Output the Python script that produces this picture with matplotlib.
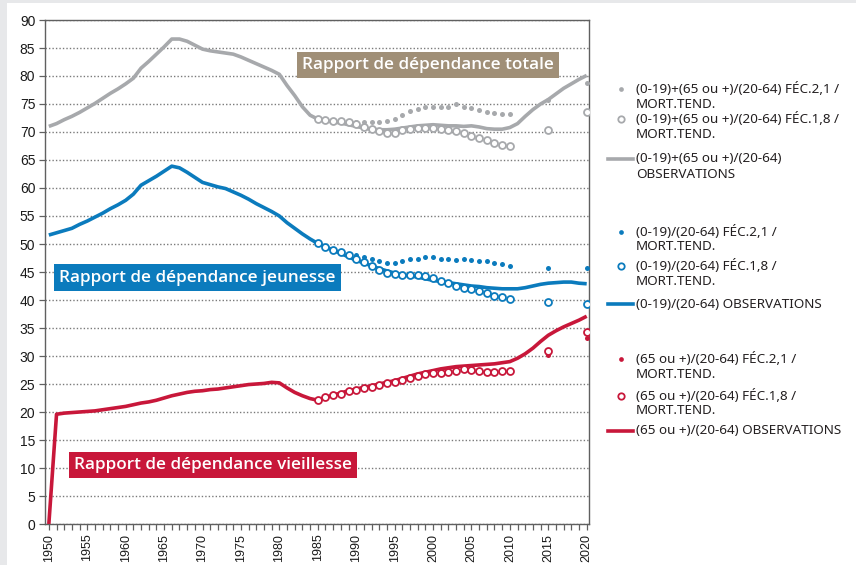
import numpy as np
import matplotlib
matplotlib.use("Agg")
import matplotlib.pyplot as plt
from matplotlib.lines import Line2D
from matplotlib.patches import Rectangle
from matplotlib.ticker import MultipleLocator

# observed years and projection years
years_obs = list(range(1950, 2021))
years_proj = list(range(1985, 2011)) + [2015, 2020]

# total dependency ratio (0-19)+(65+)/(20-64)
total_obs = [71.0, 71.5, 72.2, 72.8, 73.5, 74.3, 75.1, 76.0, 76.9, 77.7,
             78.6, 79.6, 81.4, 82.6, 83.9, 85.2, 86.6, 86.6, 86.2, 85.5,
             84.8, 84.5, 84.3, 84.1, 83.9, 83.4, 82.8, 82.2, 81.6, 81.0,
             80.3, 78.3, 76.5, 74.5, 73.0, 72.3, 72.0, 71.8, 71.6, 71.3,
             71.0, 70.7, 70.5, 70.4, 70.4, 70.5, 70.7, 70.9, 71.1, 71.2,
             71.3, 71.2, 71.1, 71.1, 71.0, 71.1, 70.9, 70.6, 70.5, 70.5,
             70.8, 71.5, 72.8, 74.0, 75.0, 75.8, 76.8, 77.8, 78.6, 79.4,
             80.1]
total_f21 = [72.2, 72.0, 71.9, 71.8, 71.8, 71.8, 71.8, 71.7, 71.8, 72.0,
             72.4, 73.0, 73.7, 74.1, 74.4, 74.4, 74.4, 74.4, 75.0, 74.4,
             74.2, 73.9, 73.6, 73.4, 73.3, 73.2, 75.7, 78.7]
total_f18 = [72.3, 72.1, 72.0, 72.0, 71.8, 71.5, 70.9, 70.5, 70.1, 69.8,
             69.9, 70.4, 70.6, 70.8, 70.8, 70.8, 70.6, 70.4, 70.1, 69.8,
             69.2, 68.9, 68.6, 68.0, 67.7, 67.5, 70.4, 73.6]

# youth dependency ratio (0-19)/(20-64)
young_obs = [51.6, 52.0, 52.4, 52.8, 53.5, 54.1, 54.8, 55.5, 56.3, 57.0,
             57.8, 58.9, 60.5, 61.3, 62.1, 63.0, 63.9, 63.6, 62.8, 61.9,
             61.0, 60.6, 60.2, 59.9, 59.3, 58.7, 58.0, 57.2, 56.5, 55.8,
             55.0, 53.8, 52.8, 51.8, 50.9, 50.1, 49.5, 48.9, 48.3, 47.7,
             47.1, 46.6, 46.1, 45.6, 45.2, 44.8, 44.5, 44.3, 44.1, 43.8,
             43.5, 43.3, 43.1, 42.9, 42.7, 42.5, 42.4, 42.2, 42.1, 42.0,
             42.0, 42.0, 42.2, 42.5, 42.8, 43.0, 43.1, 43.2, 43.2, 43.0,
             42.9]
young_f21 = [50.1, 49.6, 49.1, 48.6, 48.2, 48.0, 47.7, 47.3, 46.9, 46.6,
             46.6, 46.9, 47.3, 47.4, 47.6, 47.6, 47.4, 47.3, 47.1, 47.3,
             47.1, 47.0, 46.9, 46.6, 46.4, 46.1, 45.7, 45.7]
young_f18 = [50.1, 49.5, 49.0, 48.5, 48.0, 47.4, 46.8, 46.1, 45.4, 44.9,
             44.6, 44.5, 44.4, 44.4, 44.2, 43.9, 43.4, 43.0, 42.5, 42.2,
             41.9, 41.6, 41.2, 40.7, 40.5, 40.1, 39.7, 39.3]

# old-age dependency ratio (65+)/(20-64)
old_obs = [0.0, 19.6, 19.8, 19.9, 20.0, 20.1, 20.2, 20.4, 20.6, 20.8,
           21.0, 21.3, 21.6, 21.8, 22.1, 22.5, 22.9, 23.2, 23.5, 23.7,
           23.8, 24.0, 24.1, 24.3, 24.5, 24.7, 24.9, 25.0, 25.1, 25.3,
           25.2, 24.3, 23.5, 22.9, 22.4, 22.1, 22.6, 23.0, 23.4, 23.8,
           24.1, 24.4, 24.7, 25.0, 25.3, 25.6, 26.0, 26.4, 26.8, 27.1,
           27.4, 27.7, 27.9, 28.1, 28.2, 28.3, 28.4, 28.5, 28.6, 28.8,
           29.0, 29.6, 30.4, 31.4, 32.6, 33.7, 34.5, 35.2, 35.8, 36.4,
           37.1]
old_f21 = [22.1, 22.6, 23.0, 23.3, 23.7, 24.0, 24.3, 24.5, 24.8, 25.1,
           25.4, 25.7, 26.1, 26.4, 26.7, 26.9, 27.0, 27.1, 27.3, 27.6,
           27.5, 27.4, 27.2, 27.2, 27.3, 27.4, 30.2, 33.2]
old_f18 = [22.1, 22.6, 23.0, 23.3, 23.7, 24.0, 24.3, 24.5, 24.8, 25.1,
           25.4, 25.7, 26.1, 26.4, 26.7, 26.9, 27.0, 27.1, 27.3, 27.6,
           27.5, 27.4, 27.2, 27.2, 27.3, 27.4, 30.9, 34.3]

GREY = "#a7a9ac"
BLUE = "#0b7bbd"
RED = "#c8173a"
TAUPE = "#a08f77"

series = [
    (total_obs, total_f21, total_f18, GREY,
     ["(0-19)+(65 ou +)/(20-64) FÉC.2,1 /", "MORT.TEND."],
     ["(0-19)+(65 ou +)/(20-64) FÉC.1,8 /", "MORT.TEND."],
     ["(0-19)+(65 ou +)/(20-64)", "OBSERVATIONS"]),
    (young_obs, young_f21, young_f18, BLUE,
     ["(0-19)/(20-64) FÉC.2,1 /", "MORT.TEND."],
     ["(0-19)/(20-64) FÉC.1,8 /", "MORT.TEND."],
     ["(0-19)/(20-64) OBSERVATIONS"]),
    (old_obs, old_f21, old_f18, RED,
     ["(65 ou +)/(20-64) FÉC.2,1 /", "MORT.TEND."],
     ["(65 ou +)/(20-64) FÉC.1,8 /", "MORT.TEND."],
     ["(65 ou +)/(20-64) OBSERVATIONS"]),
]

W, H = 856, 565
fig = plt.figure(figsize=(W / 100, H / 100), dpi=100, facecolor="#e7e8ea")
fig.patches.append(Rectangle((7 / W, 0), 1, 1 - 3 / H, transform=fig.transFigure,
                             facecolor="white", edgecolor="none", zorder=-10))

ax = fig.add_axes([45 / W, 1 - 524 / H, 544 / W, 504 / H])
ax.set_xlim(1949.5, 2020.3)
ax.set_ylim(0, 90)

for obs, f21, f18, col, *_ in series:
    ax.plot(years_obs, obs, color=col, lw=2.6, solid_capstyle="butt", zorder=3)
    ax.plot(years_proj, f21, "o", color=col, ms=3.6, mec="none", zorder=4)
    ax.plot(years_proj, f18, "o", mfc="white", mec=col, mew=1.3, ms=5.0, zorder=5)

ax.yaxis.set_major_locator(MultipleLocator(5))
ax.xaxis.set_major_locator(MultipleLocator(5))
ax.xaxis.set_minor_locator(MultipleLocator(1))
ax.grid(axis="y", color="#7a7a7a", ls=(0, (1.0, 1.5)), lw=1.0)
ax.set_axisbelow(True)
for s in ax.spines.values():
    s.set_color("#606060")
    s.set_linewidth(1.0)
ax.tick_params(axis="both", which="both", direction="out", color="#606060",
               length=4, width=0.9, labelsize=10, pad=3, labelcolor="#1a1a1a")
ax.tick_params(axis="x", labelrotation=90, pad=3, labelsize=9)
for lab in ax.get_xticklabels() + ax.get_yticklabels():
    lab.set_fontfamily("Liberation Sans")

box_font = dict(family="Open Sans", weight="semibold", size=12.3, color="white")
ax.text(1999.4, 82.0, "Rapport de dépendance totale", ha="center", va="center",
        bbox=dict(boxstyle="square,pad=0.3", fc=TAUPE, ec="none"), zorder=6, **box_font)
ax.text(1969.3, 44.0, "Rapport de dépendance jeunesse", ha="center", va="center",
        bbox=dict(boxstyle="square,pad=0.3", fc=BLUE, ec="none"), zorder=6, **box_font)
ax.text(1971.4, 10.5, "Rapport de dépendance vieillesse", ha="center", va="center",
        bbox=dict(boxstyle="square,pad=0.3", fc=RED, ec="none"), zorder=6, **box_font)

# legend, drawn by hand on the right
leg_rows = [(89, 119, 159), (232, 266, 304), (359, 396, 431)]
leg_font = dict(family="Noto Sans", size=9.7, color="#231f20", va="center")
for (obs, f21, f18, col, lab21, lab18, labobs), rows in zip(series, leg_rows):
    fy = [1 - r / H for r in rows]
    fig.add_artist(Line2D([621 / W], [fy[0]], marker="o", ls="none", color=col,
                          ms=3.4, mec="none", transform=fig.transFigure))
    fig.add_artist(Line2D([621 / W], [fy[1]], marker="o", ls="none", mfc="white",
                          mec=col, mew=1.3, ms=4.6, transform=fig.transFigure))
    fig.add_artist(Line2D([608 / W, 633 / W], [fy[2], fy[2]], color=col, lw=2.6,
                          transform=fig.transFigure))
    for r, lines in zip(rows, (lab21, lab18, labobs)):
        for i, line in enumerate(lines):
            fig.text(636 / W, 1 - (r + 15 * i) / H, line, **leg_font)

fig.savefig("out.png", dpi=100, facecolor=fig.get_facecolor())
